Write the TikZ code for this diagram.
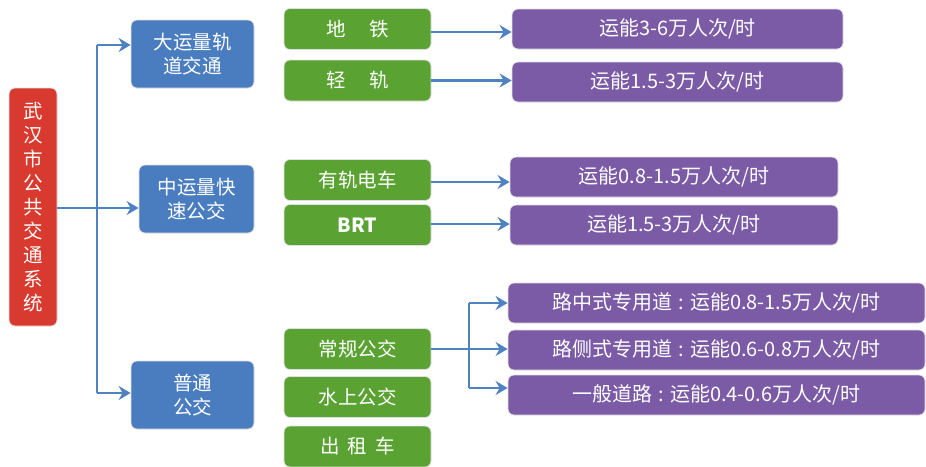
\documentclass[tikz,border=0pt]{standalone}
\usepackage{fontspec}
\setmainfont{Noto Sans CJK SC}
\usetikzlibrary{arrows.meta}
\definecolor{cred}{HTML}{D93A2F}
\definecolor{cblue}{HTML}{4A7DBF}
\definecolor{cgreen}{HTML}{5AA333}
\definecolor{cpurple}{HTML}{7B5AA6}
\definecolor{cline}{HTML}{4F82C0}
\tikzset{
  box/.style={rounded corners=6pt, inner sep=0pt, text=white, align=center,
    font=\fontsize{19.5}{24}\selectfont, draw=black!12, line width=0.8pt},
  redbox/.style={box, fill=cred, minimum width=48pt, minimum height=238pt},
  bluebox/.style={box, fill=cblue, minimum height=68pt},
  greenbox/.style={box, fill=cgreen, minimum width=147pt, minimum height=41pt},
  purplebox/.style={box, fill=cpurple, minimum height=40pt, font=\fontsize{20}{24}\selectfont},
  conn/.style={draw=cline, line width=2.8pt},
  arr/.style={conn, -{Stealth[length=12pt,width=14pt,inset=4pt]}}
}
\newcommand{\ccolon}{\hspace{0.3em}:\hspace{0.3em}}
\begin{document}
\begin{tikzpicture}[x=1pt,y=-1pt]
\useasboundingbox (0,0) rectangle (926,466);
% main box
\node[redbox] (root) at (33,207) {武\\汉\\市\\公\\共\\交\\通\\系\\统};
% level 1
\node[bluebox, minimum width=123pt] (b1) at (192.5,54) {大运量轨\\道交通};
\node[bluebox, minimum width=115pt] (b2) at (196.5,199) {中运量快\\速公交};
\node[bluebox, minimum width=123pt] (b3) at (192.5,395) {普通\\公交};
% level 2
\node[greenbox] (g1) at (357.5,29) {地\hspace{1.2em}铁};
\node[greenbox] (g2) at (357.5,80.5) {轻\hspace{1.2em}轨};
\node[greenbox] (g3) at (357.5,180) {有轨电车};
\node[greenbox] (g4) at (357.5,225) {\bfseries BRT};
\node[greenbox] (g5) at (357.5,349) {常规公交};
\node[greenbox] (g6) at (357.5,397) {水上公交};
\node[greenbox] (g7) at (357.5,446.5) {出\hspace{0.4em}租\hspace{0.4em}车};
% level 3
\node[purplebox, minimum width=331pt] (p1) at (677.5,29) {运能3-6万人次/时};
\node[purplebox, minimum width=331pt] (p2) at (677.5,82) {运能1.5-3万人次/时};
\node[purplebox, minimum width=328pt] (p3) at (674,177) {运能0.8-1.5万人次/时};
\node[purplebox, minimum width=328pt] (p4) at (674,225) {运能1.5-3万人次/时};
\node[purplebox, minimum width=417pt] (p5) at (716.5,303) {路中式专用道\ccolon 运能0.8-1.5万人次/时};
\node[purplebox, minimum width=417pt] (p6) at (716.5,350) {路侧式专用道\ccolon 运能0.6-0.8万人次/时};
\node[purplebox, minimum width=417pt] (p7) at (716.5,395) {一般道路\ccolon 运能0.4-0.6万人次/时};
% trunk
\coordinate (tt) at (97,45);
\coordinate (tb) at (97,393);
\coordinate (tm) at (97,208);
\draw[conn] (tt) -- (tb);
\draw[arr] (root.east |- tm) -- (b2.west |- tm);
\draw[arr] (tt) -- (b1.west |- tt);
\draw[arr] (tb) -- (b3.west |- tb);
% green to purple
\draw[arr] (g1.east |- 0,32) -- (p1.west |- 0,32);
\draw[arr] (g2.east) -- (p2.west |- g2.east);
\draw[arr] (g3.east |- 0,182) -- (p3.west |- 0,182);
\draw[arr] (g4.east |- 0,224) -- (p4.west |- 0,224);
% bus branch
\coordinate (bt) at (469,303);
\coordinate (bb) at (469,388);
\draw[conn] (g5.east) -- (g5.east -| bt);
\draw[conn] (bt) -- (bb);
\draw[arr] (bt) -- (p5.west |- bt);
\draw[arr] (g5.east -| bt) -- (p6.west |- g5.east);
\draw[arr] (bb) -- (p7.west |- bb);
\end{tikzpicture}
\end{document}
